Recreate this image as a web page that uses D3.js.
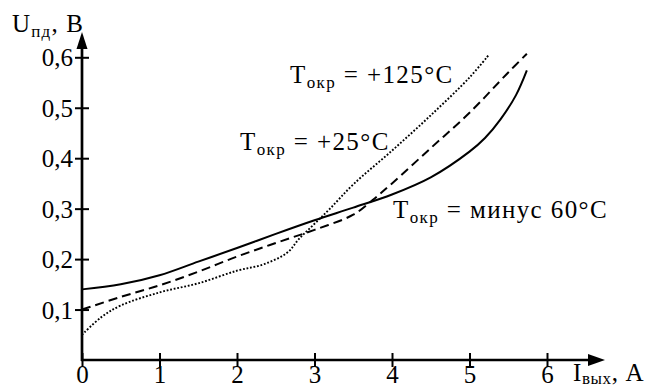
<!DOCTYPE html>
<html>
<head>
<meta charset="utf-8">
<script src="https://cdn.jsdelivr.net/npm/d3@7"></script>
<style>
  body { margin: 0; background: #fff; }
  #chart text { font-family: 'Liberation Serif', 'DejaVu Serif', 'Noto Serif', serif; }
</style>
</head>
<body>
<svg id="chart" width="651" height="387"></svg>
<script>
// Output current, A and forward voltage, V, for three ambient temperatures
const minus60X = [0, 0.5, 1, 1.5, 2, 2.5, 3, 3.5, 4, 4.5, 5, 5.2, 5.4, 5.6, 5.74];
const minus60Y = [0.14, 0.15, 0.168, 0.195, 0.222, 0.25, 0.277, 0.302, 0.328, 0.362, 0.413, 0.44, 0.477, 0.525, 0.574];

const plus25X = [0, 0.5, 1, 1.5, 2, 2.5, 3, 3.5, 3.75, 4, 4.5, 5, 5.5, 5.74];
const plus25Y = [0.1, 0.125, 0.148, 0.175, 0.205, 0.232, 0.258, 0.288, 0.317, 0.35, 0.42, 0.49, 0.57, 0.607];

const plus125X = [0, 0.25, 0.5, 1, 1.5, 2, 2.35, 2.65, 2.8, 3, 3.2, 3.5, 4, 4.5, 5, 5.25];
const plus125Y = [0.05, 0.085, 0.108, 0.134, 0.152, 0.177, 0.19, 0.213, 0.24, 0.27, 0.3, 0.348, 0.415, 0.485, 0.56, 0.605];

const xTicks = [0, 1, 2, 3, 4, 5, 6];
const yTicks = [0.1, 0.2, 0.3, 0.4, 0.5, 0.6];
const yTickLabels = ['0,1', '0,2', '0,3', '0,4', '0,5', '0,6'];

const svg = d3.select('#chart');
const fontSize = 25;
const subSize = 17;

const x = d3.scaleLinear().domain([0, 6]).range([82, 547]);
const y = d3.scaleLinear().domain([0, 0.6]).range([360, 57.3]);

// axes: tick marks cross the axis line
const gx = svg.append('g')
  .attr('transform', `translate(0, ${y(0)})`)
  .call(d3.axisBottom(x).tickValues(xTicks).tickFormat(d3.format('d')).tickSize(7))
  .attr('font-family', null)
  .attr('font-size', fontSize);
gx.select('.domain').remove();
gx.selectAll('.tick line').attr('y1', -7).attr('y2', 7).attr('stroke', '#000').attr('stroke-width', 2);
gx.selectAll('.tick text').attr('y', 23).attr('dy', 0).attr('fill', '#000');

const gy = svg.append('g')
  .attr('transform', `translate(${x(0)}, 0)`)
  .call(d3.axisLeft(y).tickValues(yTicks).tickFormat((d, i) => yTickLabels[i]).tickSize(7))
  .attr('font-family', null)
  .attr('font-size', fontSize);
gy.select('.domain').remove();
gy.selectAll('.tick line').attr('x1', 7).attr('x2', -7).attr('stroke', '#000').attr('stroke-width', 2);
gy.selectAll('.tick text').attr('x', -9).attr('dy', '0.34em').attr('fill', '#000');

// axis lines with arrows
svg.append('line')
  .attr('x1', x(0)).attr('y1', y(0) + 1)
  .attr('x2', x(0)).attr('y2', 46)
  .attr('stroke', '#000').attr('stroke-width', 2.7);
svg.append('path')
  .attr('d', `M${x(0)},32 L${x(0) - 5.5},49 L${x(0) + 5.5},49 Z`)
  .attr('fill', '#000');

svg.append('line')
  .attr('x1', x(0) - 1).attr('y1', y(0))
  .attr('x2', 592).attr('y2', y(0))
  .attr('stroke', '#000').attr('stroke-width', 2.7);
svg.append('path')
  .attr('d', `M605,${y(0)} L588,${y(0) - 6} L588,${y(0) + 6} Z`)
  .attr('fill', '#000');

// curves
const line = d3.line()
  .x((d) => x(d[0]))
  .y((d) => y(d[1]))
  .curve(d3.curveCatmullRom.alpha(0.5));

const series = [
  { xs: minus60X, ys: minus60Y, dash: null, width: 2 },
  { xs: plus25X, ys: plus25Y, dash: '9,5', width: 2 },
  { xs: plus125X, ys: plus125Y, dash: '1.8,1.8', width: 1.9 },
];

svg.append('g')
  .selectAll('path')
  .data(series)
  .enter().append('path')
  .attr('d', (s) => line(s.xs.map((v, i) => [v, s.ys[i]])))
  .attr('fill', 'none')
  .attr('stroke', '#000')
  .attr('stroke-width', (s) => s.width)
  .attr('stroke-dasharray', (s) => s.dash);

// text with subscript
function label(px, py, main, sub, rest, spacing, subDy) {
  const t = svg.append('text')
    .attr('x', px).attr('y', py)
    .attr('font-size', fontSize)
    .attr('letter-spacing', spacing)
    .attr('fill', '#000');
  t.append('tspan').text(main);
  t.append('tspan').attr('font-size', subSize).attr('dy', subDy).text(sub);
  t.append('tspan').attr('dy', -subDy).text(rest);
}

label(12, 32, 'U', 'пд', ', В', 1.2, 5);
label(573, 381, 'I', 'вых', ', А', 0.6, 3);
label(290, 83, 'T', 'окр', ' = +125°C', 1.4, 5);
label(240, 150, 'T', 'окр', ' = +25°C', 1.4, 5);
label(393, 218, 'T', 'окр', ' = минус 60°C', 1.4, 5);
</script>
</body>
</html>
